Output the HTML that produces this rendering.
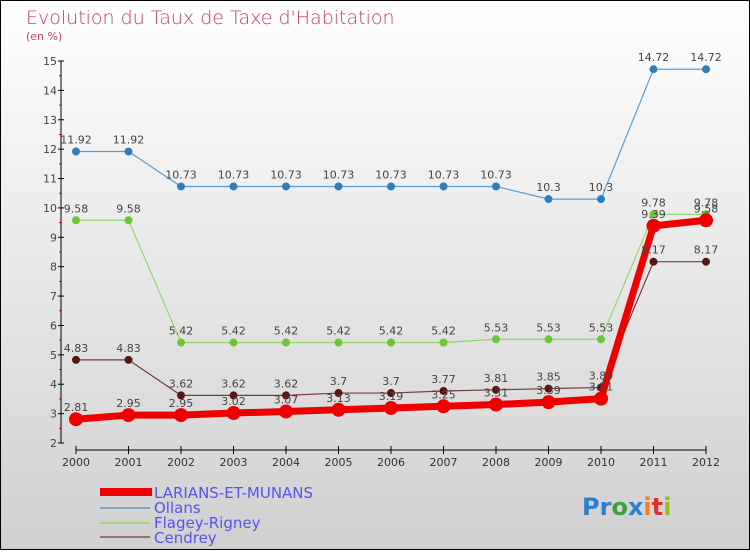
<!DOCTYPE html>
<html><head><meta charset="utf-8"><style>
body{margin:0;}
#c{width:750px;height:550px;position:relative;font-family:"DejaVu Sans","Liberation Sans",sans-serif;}
</style></head><body>
<div id="c">
<svg id="s" width="750" height="550" xmlns="http://www.w3.org/2000/svg">
<defs><linearGradient id="bg" x1="0" y1="0" x2="0" y2="1"><stop offset="0" stop-color="#ffffff"/><stop offset="1" stop-color="#d0d0d0"/></linearGradient></defs>
<rect x="0.5" y="0.5" width="749" height="549" fill="url(#bg)" stroke="#000"/>
<text x="26" y="24" font-size="19" fill="#c0406a" font-weight="300">Evolution du Taux de Taxe d'Habitation</text>
<text x="26" y="40" font-size="11" fill="#c0406a">(en %)</text>
<g id="axes"></g><g id="series"></g><g id="labels"></g>
<g>
<rect x="100" y="488" width="52" height="8" fill="#ee0000"/>
<text x="154" y="498" font-size="15" fill="#5555ee">LARIANS-ET-MUNANS</text>
<line x1="100" y1="508" x2="150" y2="508" stroke="#7aa9cc" stroke-width="2"/>
<text x="154" y="513" font-size="15" fill="#5555ee">Ollans</text>
<line x1="100" y1="523" x2="150" y2="523" stroke="#9fd67f" stroke-width="2"/>
<text x="154" y="528" font-size="15" fill="#5555ee">Flagey-Rigney</text>
<line x1="100" y1="537" x2="150" y2="537" stroke="#987070" stroke-width="2"/>
<text x="154" y="543" font-size="15" fill="#5555ee">Cendrey</text>
</g>
<text x="582" y="515" font-size="24" font-weight="bold"><tspan fill="#2a7fd0">Pr</tspan><tspan fill="#3aa040">o</tspan><tspan fill="#2a7fd0">x</tspan><tspan fill="#f08020">i</tspan><tspan fill="#e03030">t</tspan><tspan fill="#90c020">i</tspan></text>
</svg>
</div>
<script>
const years=[2000,2001,2002,2003,2004,2005,2006,2007,2008,2009,2010,2011,2012];
const larians=[2.81,2.95,2.95,3.02,3.07,3.13,3.19,3.25,3.31,3.39,3.51,9.39,9.58];
const ollans=[11.92,11.92,10.73,10.73,10.73,10.73,10.73,10.73,10.73,10.3,10.3,14.72,14.72];
const flagey=[9.58,9.58,5.42,5.42,5.42,5.42,5.42,5.42,5.53,5.53,5.53,9.78,9.78];
const cendrey=[4.83,4.83,3.62,3.62,3.62,3.7,3.7,3.77,3.81,3.85,3.89,8.17,8.17];
const yTicks=[2,3,4,5,6,7,8,9,10,11,12,13,14,15];
const NS="http://www.w3.org/2000/svg";
const X=i=>76+i*52.5;
const Y=v=>443-(v-2)*(382/13);
function mk(t,a,p){const e=document.createElementNS(NS,t);for(const k in a)e.setAttribute(k,a[k]);p.appendChild(e);return e;}
const ax=document.getElementById('axes');
const yl=mk('line',{x1:61,y1:Y(15),x2:61,y2:Y(2),stroke:'#000','stroke-width':1},ax);


const xl=mk('line',{x1:X(0),y1:450,x2:X(12),y2:450,stroke:'#000','stroke-width':1},ax);


yTicks.forEach(v=>{
 mk('line',{x1:58,y1:Y(v),x2:64,y2:Y(v),stroke:'#000'},ax);
 if(v<15)mk('line',{x1:59,y1:Y(v+0.5),x2:62,y2:Y(v+0.5),stroke:'#e00'},ax);
 const t=mk('text',{x:57,y:Y(v)+4,'font-size':11,fill:'#444','text-anchor':'end'},ax);
 t.textContent=v;
 
 
});
years.forEach((y,i)=>{
 mk('line',{x1:X(i),y1:446,x2:X(i),y2:454,stroke:'#000'},ax);
 const t=mk('text',{x:X(i),y:466,'font-size':11,fill:'#333','text-anchor':'middle'},ax);
 t.textContent=y;
 
 
});
const sg=document.getElementById('series'),lg=document.getElementById('labels');
function series(d,name,col,dot,w,r){
 const pts=d.map((v,i)=>X(i)+','+Y(v)).join(' ');
 const pl=mk('polyline',{points:pts,fill:'none',stroke:col,'stroke-width':w},sg);
 
 
 d.forEach((v,i)=>{
  const c=mk('circle',{cx:X(i),cy:Y(v),r:r,fill:dot},sg);
  
  
  const t=mk('text',{x:X(i),y:Y(v)-8,'font-size':11,fill:'#444','text-anchor':'middle'},lg);
  t.textContent=v;
  
  
 });
}
series(ollans,'ollans','#5a9fd4','#2f7dbf',1.2,4);
series(flagey,'flagey','#8fd86a','#6cc63a',1.2,4);
series(cendrey,'cendrey','#7a3a3a','#5a1515',1.2,4);
series(larians,'larians','#ee0000','#ee0000',7,7);
</script>
</body></html>
